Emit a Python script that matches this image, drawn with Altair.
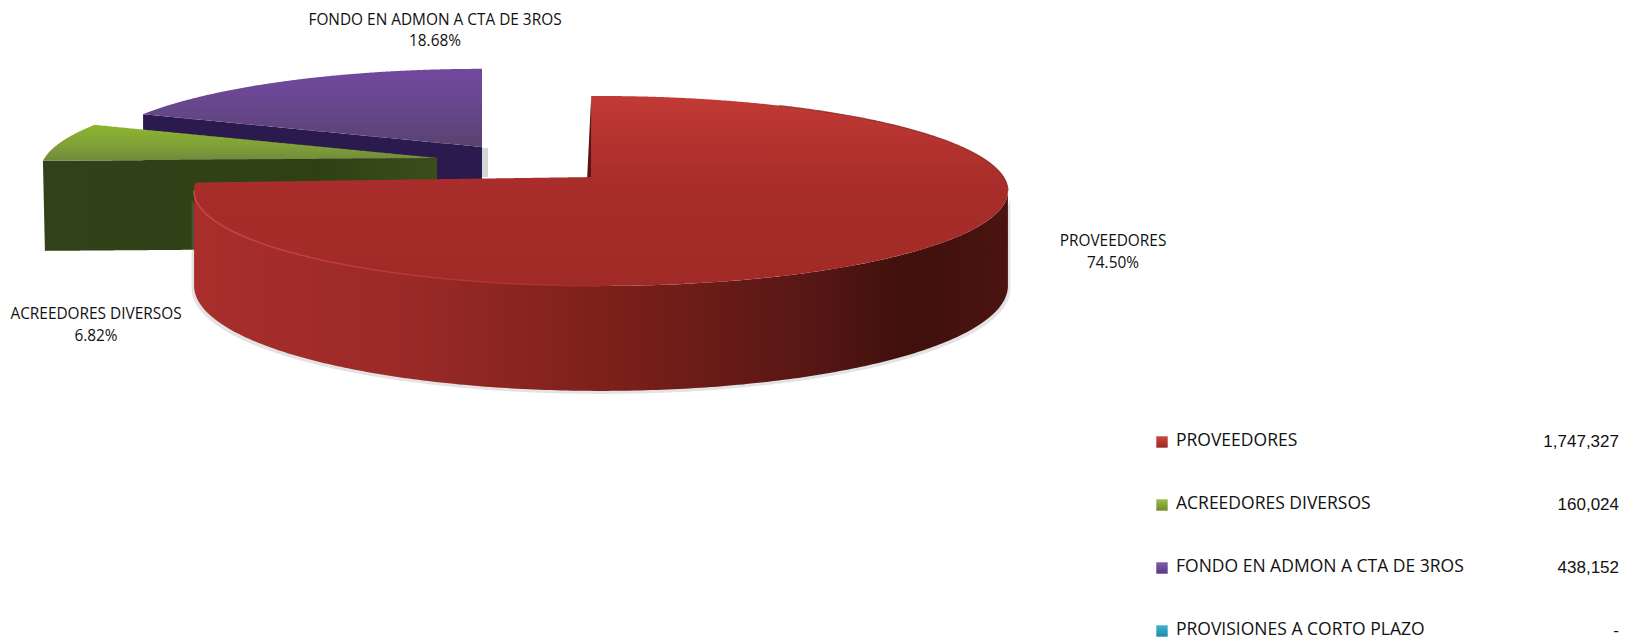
import math
import altair as alt
import pandas as pd

categories = ["PROVEEDORES", "ACREEDORES DIVERSOS", "FONDO EN ADMON A CTA DE 3ROS", "PROVISIONES A CORTO PLAZO"]
amounts = [1747327, 160024, 438152, 0]

# layout (screen pixels, the scales below map them 1:1)
W, H = 1617, 631
K, A, B = 0.147, 402.5, 92.9
total = sum(amounts)
shares = [v / total for v in amounts]
deg = [s * 360 for s in shares]


def rim(cx, cy, t, s=1.0):
    r = math.radians(t)
    d = 1 + K * math.cos(r)
    return (cx + s * A * math.sin(r) / d, cy - s * B * math.cos(r) / d)


def arc(cx, cy, t0, t1, s=1.0, n=240):
    return [rim(cx, cy, t0 + (t1 - t0) * i / n, s) for i in range(n + 1)]


def spans(poly, dy=0.0):
    """Cut a polygon into vertical spans so it can be drawn as an area."""
    xs = sorted({round(p[0], 2) for p in poly})
    lo, hi = xs[0], xs[-1]
    grid = sorted(set(xs) | {float(x) for x in range(math.ceil(lo), math.floor(hi) + 1, 2)})
    rows = []
    m = len(poly)
    for x in grid:
        ys = []
        for i in range(m):
            (x1, y1), (x2, y2) = poly[i], poly[(i + 1) % m]
            if min(x1, x2) - 0.01 <= x <= max(x1, x2) + 0.01:
                if abs(x2 - x1) < 1e-6:
                    ys += [y1, y2]
                else:
                    f = min(1, max(0, (x - x1) / (x2 - x1)))
                    ys.append(y1 + f * (y2 - y1))
        if ys:
            rows.append({"x": x, "y": min(ys) + dy, "y2": max(ys) + dy})
    return pd.DataFrame(rows)


XS = alt.Scale(domain=[8, 8 + W], nice=False, zero=False)
YS = alt.Scale(domain=[8, 8 + H], reverse=True, nice=False, zero=False)
X = alt.X("x:Q", axis=None, scale=XS)
Y = alt.Y("y:Q", axis=None, scale=YS)
Y2 = alt.Y2("y2:Q")


def grad(stops, horizontal=False):
    return alt.Gradient(
        gradient="linear",
        stops=[alt.GradientStop(color=c, offset=o) for o, c in stops],
        x1=0, y1=0, x2=1 if horizontal else 0, y2=0 if horizontal else 1,
    )


def shape(df, fill, opacity=1.0):
    return alt.Chart(df).mark_area(color=fill, opacity=opacity, interpolate="linear").encode(x=X, y=Y, y2=Y2)


def outline(pts, stroke, width=1.5, opacity=1.0):
    df = pd.DataFrame([{"x": p[0], "y": p[1], "i": i} for i, p in enumerate(pts)])
    return alt.Chart(df).mark_line(color=stroke, strokeWidth=width, opacity=opacity).encode(
        x=alt.X("x:Q", axis=None, sort=None, scale=XS), y=Y, order="i:Q")


layers = []

# purple wedge
pa = (482, 147)
p_t0 = deg[0] + deg[1]
p_arc = arc(pa[0], pa[1], p_t0, 360, 0.965)
layers.append(shape(spans([(482, 177), (488, 177), (488, 148), (482, 148)]), "#c4c4c4", 0.7))
p_tip = p_arc[0]
layers.append(shape(spans([p_tip, pa, (pa[0], pa[1] + 90), (p_tip[0], p_tip[1] + 90)]), "#2b1a4e"))
layers.append(shape(spans(p_arc + [pa]), grad([(0, "#73489f"), (0.45, "#68478f"), (1, "#59426f")])))

# green wedge
ga = (437, 158)
g_arc = arc(ga[0], ga[1], deg[0], deg[0] + deg[1], 0.975)
g_tip = g_arc[0]
layers.append(shape(spans([g_tip, ga, (ga[0], ga[1] + 90), (g_tip[0] + 2, g_tip[1] + 90)]),
                    grad([(0, "#31411a"), (0.7, "#2f4113"), (1, "#3c4d1c")], True)))
layers.append(shape(spans(g_arc + [ga]), grad([(0, "#8db52f"), (0.6, "#7f9f37"), (1, "#6f8a3c")])))

# red wedge
ra = (594, 177)
CX, CY = 601, 177
r_start = -1.6
r_end = r_start + deg[0]
wall_rows = []
for i in range(241):
    t = 98.5 + (261.5 - 98.5) * i / 240
    px, py = rim(CX, CY, t)
    wall_rows.append({"x": px, "y": py, "y2": py + 93 + 12 * (-math.cos(math.radians(t)))})
wall = pd.DataFrame(wall_rows).sort_values("x")
shadow = wall.assign(x=lambda d: CX + (d.x - CX) * 1.006, y=lambda d: d.y + 4, y2=lambda d: d.y2 + 3)
layers.append(shape(shadow, "#8f8f8f", 0.25))
layers.append(shape(wall, grad([(0, "#a92e2c"), (0.26, "#9a2a27"), (0.51, "#7c2019"),
                                (0.76, "#561715"), (0.88, "#3f100c"), (1, "#4b1410")], True)))
top_corner = rim(CX, CY, r_start)
layers.append(shape(spans([top_corner, (top_corner[0] - 4, ra[1]), (ra[0] + 1, ra[1])]), "#5a1512"))
layers.append(shape(spans(arc(CX, CY, r_start, r_end) + [ra]),
                    grad([(0, "#c23a35"), (0.45, "#a92d2a"), (1, "#a02a27")])))
layers.append(outline(arc(CX, CY, 262, 180), grad([(0, "#c8484a"), (1, "#a52c29")], True), 1.5))
layers.append(outline(arc(CX, CY, 98.5, 30), "#7a1c19", 1.2, 0.7))

# slice labels
slice_labels = pd.DataFrame({
    "name": [categories[0], categories[1], categories[2]],
    "pct": [f"{shares[i] * 100:.2f}%" for i in range(3)],
    "x": [1113, 96, 435],
    "y": [241, 314, 20],
    "y_pct": [263, 336, 41],
})
LABEL_FONT = dict(font="Open Sans", fontSize=15.4, color="#111111", align="center", baseline="middle")
layers.append(alt.Chart(slice_labels).mark_text(**LABEL_FONT).encode(x=X, y=Y, text="name:N"))
layers.append(alt.Chart(slice_labels).mark_text(**LABEL_FONT).encode(
    x=X, y=alt.Y("y_pct:Q", axis=None, scale=YS), text="pct:N"))

# legend table
swatches = [("#cc4441", "#9b2a27"), ("#9cbb48", "#6f8c2d"), ("#7d5cb0", "#55397f"), ("#3cb4d0", "#1f8aa8")]
rows = []
for i, (c, v) in enumerate(zip(categories, amounts)):
    rows.append({"name": c, "val": f"{v:,}" if v else "-", "row": i,
                 "x": 1162, "tx": 1176, "vx": 1619,
                 "y": 442 + 63 * i, "ty": 441 + 63 * i})
legend = pd.DataFrame(rows)
for i, (a, b) in enumerate(swatches):
    layers.append(alt.Chart(legend[legend.row == i]).mark_square(
        size=130, opacity=1, color=grad([(0, a), (1, b)])).encode(x=X, y=Y))
layers.append(alt.Chart(legend).mark_text(font="Open Sans", fontSize=17.5, color="#111111", align="left",
                                          baseline="middle").encode(
    x=alt.X("tx:Q", axis=None, scale=XS), y=alt.Y("ty:Q", axis=None, scale=YS), text="name:N"))
layers.append(alt.Chart(legend).mark_text(font="Liberation Sans", fontSize=17, color="#111111", align="right",
                                          baseline="middle").encode(
    x=alt.X("vx:Q", axis=None, scale=XS), y=Y, text="val:N"))

chart = alt.layer(*layers).properties(
    width=W, height=H, padding=0, autosize=alt.AutoSizeParams(type="none"), background="white"
).configure_view(stroke=None)

chart.save("out.html", embed_options={"renderer": "svg", "actions": False})
